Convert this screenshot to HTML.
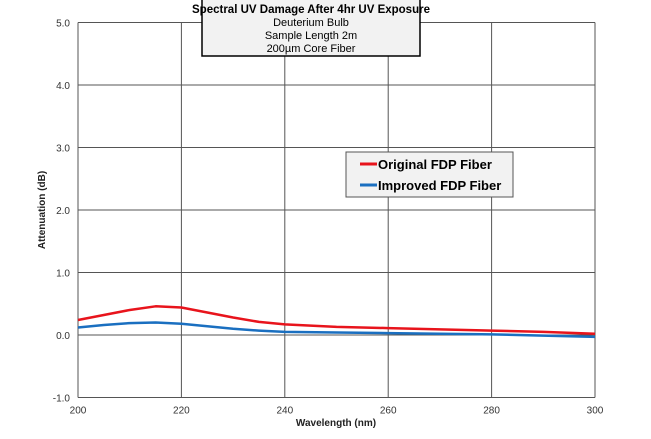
<!DOCTYPE html>
<html><head><meta charset="utf-8"><style>
body{margin:0;background:#fff;}
svg text{font-family:"Liberation Sans",sans-serif;}
</style></head><body>
<svg width="651" height="434" xmlns="http://www.w3.org/2000/svg">
<g id="grid"></g>
<g id="series"></g>
<g id="ticks"></g>
<text x="336" y="426" font-size="10" font-weight="bold" text-anchor="middle" fill="#222">Wavelength (nm)</text>
<text transform="translate(45,210) rotate(-90)" font-size="10" font-weight="bold" text-anchor="middle" fill="#222">Attenuation (dB)</text>
<g>
<rect x="202" y="-2" width="218" height="58" fill="#f2f2f2" stroke="#000" stroke-width="1.5"/>
<text x="311" y="13" font-size="11.5" font-weight="bold" text-anchor="middle">Spectral UV Damage After 4hr UV Exposure</text>
<text x="311" y="26" font-size="11" text-anchor="middle">Deuterium Bulb</text>
<text x="311" y="39" font-size="11" text-anchor="middle">Sample Length 2m</text>
<text x="311" y="52" font-size="11" text-anchor="middle">200µm Core Fiber</text>
</g>
<g>
<rect x="346" y="152" width="167" height="45" fill="#f2f2f2" stroke="#555" stroke-width="1"/>
<line x1="360" y1="164" x2="377" y2="164" stroke="#e8141c" stroke-width="3"/>
<text x="378" y="169" font-size="13" font-weight="bold">Original FDP Fiber</text>
<line x1="360" y1="185" x2="377" y2="185" stroke="#1a6fc0" stroke-width="3"/>
<text x="378" y="190" font-size="13" font-weight="bold">Improved FDP Fiber</text>
</g>
</svg>
<script>
const wavelengths=[200,205,210,215,220,225,230,235,240,250,260,270,280,290,300];
const originalFDP=[0.24,0.32,0.40,0.46,0.44,0.36,0.28,0.21,0.17,0.13,0.11,0.09,0.07,0.05,0.02];
const improvedFDP=[0.12,0.16,0.19,0.20,0.18,0.14,0.10,0.07,0.05,0.04,0.03,0.02,0.01,-0.01,-0.03];
const xTicks=[200,220,240,260,280,300];
const yTicks=[-1,0,1,2,3,4,5];
const NS="http://www.w3.org/2000/svg";
const X=v=>78+(v-200)*5.17;
const Y=v=>335-v*62.5;
function mk(tag,attrs,parent){const e=document.createElementNS(NS,tag);for(const k in attrs)e.setAttribute(k,attrs[k]);parent.appendChild(e);return e;}
const grid=document.getElementById('grid'),ticks=document.getElementById('ticks'),ser=document.getElementById('series');
xTicks.forEach(t=>{const l=mk('line',{x1:X(t),x2:X(t),y1:Y(5),y2:Y(-1),stroke:'#555','stroke-width':1},grid);


const tx=mk('text',{x:X(t),y:Y(-1)+16,'font-size':10,'text-anchor':'middle',fill:'#333'},ticks);tx.textContent=t;

});
yTicks.forEach(t=>{const l=mk('line',{x1:X(200),x2:X(300),y1:Y(t),y2:Y(t),stroke:'#555','stroke-width':1},grid);


const tx=mk('text',{x:X(200)-8,y:Y(t)+4,'font-size':10,'text-anchor':'end',fill:'#333'},ticks);tx.textContent=t.toFixed(1);

});
function line(vals,color,name){const d=wavelengths.map((w,i)=>(i?'L':'M')+X(w).toFixed(1)+','+Y(vals[i]).toFixed(1)).join(' ');
const p=mk('path',{d:d,fill:'none',stroke:color,'stroke-width':2.5,'stroke-linejoin':'round'},ser);

}
line(improvedFDP,'#1a6fc0','improved-fdp-line');
line(originalFDP,'#e8141c','original-fdp-line');
</script>
</body></html>
